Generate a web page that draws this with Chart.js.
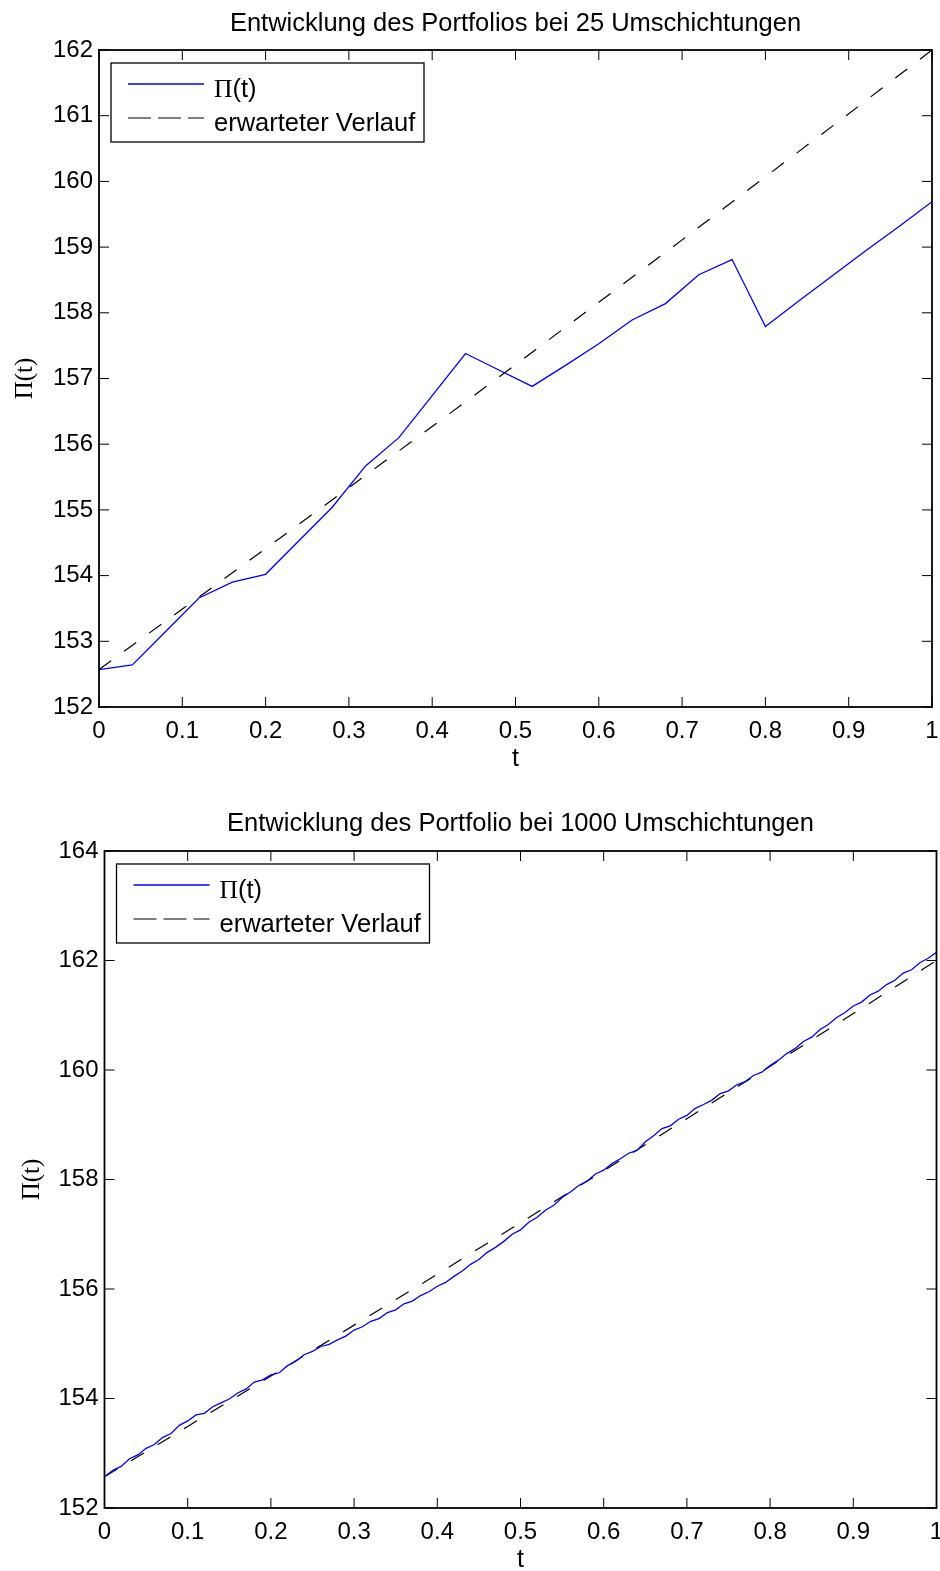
<!DOCTYPE html>
<html>
<head>
<meta charset="utf-8">
<script src="https://cdn.jsdelivr.net/npm/chart.js@4.4.1/dist/chart.umd.min.js"></script>
<style>
  html, body { margin: 0; padding: 0; background: #fff; overflow: hidden; }
  canvas { position: absolute; left: 0; }
  #chartCoarse { top: 0; }
  #chartFine { top: 790px; }
</style>
</head>
<body>
<canvas id="chartCoarse" width="940" height="790"></canvas>
<canvas id="chartFine" width="940" height="800"></canvas>
<script>
// Achsen
const xTicks = [0, 0.1, 0.2, 0.3, 0.4, 0.5, 0.6, 0.7, 0.8, 0.9, 1];
const xTickLabels = ['0', '0.1', '0.2', '0.3', '0.4', '0.5', '0.6', '0.7', '0.8', '0.9', '1'];
const yTicksCoarse = [152, 153, 154, 155, 156, 157, 158, 159, 160, 161, 162];
const yTicksFine = [152, 154, 156, 158, 160, 162, 164];

// 25 Umschichtungen
const tCoarse = [0, 0.04, 0.08, 0.12, 0.16, 0.2, 0.24, 0.28, 0.32, 0.36, 0.4, 0.44, 0.48,
  0.52, 0.56, 0.6, 0.64, 0.68, 0.72, 0.76, 0.8, 0.84, 0.88, 0.92, 0.96, 1];
const piCoarse = [152.57, 152.64, 153.15, 153.66, 153.90, 154.02, 154.53, 155.04, 155.67, 156.10,
  156.74, 157.38, 157.13, 156.88, 157.20, 157.53, 157.89, 158.14, 158.58, 158.81,
  157.79, 158.18, 158.56, 158.94, 159.31, 159.69];

// 1000 Umschichtungen
const tFine = [0, 0.01, 0.02, 0.03, 0.04, 0.05, 0.06, 0.07, 0.08, 0.09,
  0.1, 0.11, 0.12, 0.13, 0.14, 0.15, 0.16, 0.17, 0.18, 0.19,
  0.2, 0.21, 0.22, 0.23, 0.24, 0.25, 0.26, 0.27, 0.28, 0.29,
  0.3, 0.31, 0.32, 0.33, 0.34, 0.35, 0.36, 0.37, 0.38, 0.39,
  0.4, 0.41, 0.42, 0.43, 0.44, 0.45, 0.46, 0.47, 0.48, 0.49,
  0.5, 0.51, 0.52, 0.53, 0.54, 0.55, 0.56, 0.57, 0.58, 0.59,
  0.6, 0.61, 0.62, 0.63, 0.64, 0.65, 0.66, 0.67, 0.68, 0.69,
  0.7, 0.71, 0.72, 0.73, 0.74, 0.75, 0.76, 0.77, 0.78, 0.79,
  0.8, 0.81, 0.82, 0.83, 0.84, 0.85, 0.86, 0.87, 0.88, 0.89,
  0.9, 0.91, 0.92, 0.93, 0.94, 0.95, 0.96, 0.97, 0.98, 0.99, 1];
const piFine = [152.57, 152.69, 152.76, 152.90, 152.97, 153.09, 153.16, 153.29, 153.36, 153.51,
  153.59, 153.70, 153.73, 153.85, 153.92, 153.99, 154.10, 154.17, 154.30, 154.34,
  154.43, 154.47, 154.60, 154.68, 154.80, 154.86, 154.95, 154.99, 155.07, 155.14,
  155.25, 155.31, 155.41, 155.46, 155.57, 155.62, 155.73, 155.78, 155.88, 155.95,
  156.05, 156.12, 156.23, 156.33, 156.45, 156.54, 156.67, 156.76, 156.87, 157.00,
  157.08, 157.22, 157.31, 157.44, 157.53, 157.67, 157.77, 157.89, 157.97, 158.10,
  158.17, 158.29, 158.38, 158.48, 158.53, 158.69, 158.80, 158.93, 158.98, 159.10,
  159.17, 159.30, 159.37, 159.45, 159.57, 159.62, 159.73, 159.79, 159.90, 159.96,
  160.08, 160.18, 160.30, 160.39, 160.52, 160.60, 160.74, 160.83, 160.96, 161.05,
  161.17, 161.24, 161.37, 161.44, 161.56, 161.64, 161.77, 161.83, 161.96, 162.04,
  162.15];

// erwarteter Verlauf (beide Plots)
const tExpected = [0, 0.1, 0.2, 0.3, 0.4, 0.5, 0.6, 0.7, 0.8, 0.9, 1];
const piExpected = [152.57, 153.49, 154.41, 155.34, 156.27, 157.21, 158.16, 159.11, 160.07, 161.03, 162.00];

const SANS = "'Liberation Sans', Arial, Helvetica, sans-serif";
const SERIF = "'Liberation Serif', 'Times New Roman', serif";

function points(xs, ys) {
    return xs.map((x, i) => ({ x: x, y: ys[i] }));
}

// Rahmen mit nach innen zeigenden Ticks auf allen vier Seiten
const axesBox = {
    id: 'axesBox',
    afterDatasetsDraw(chart) {
        const { ctx, chartArea: a, scales: { x, y } } = chart;
        ctx.save();
        ctx.strokeStyle = '#000';
        ctx.lineWidth = 1;
        ctx.beginPath();
        x.ticks.forEach(t => {
            const px = x.getPixelForValue(t.value);
            ctx.moveTo(px, a.bottom); ctx.lineTo(px, a.bottom - 10);
            ctx.moveTo(px, a.top); ctx.lineTo(px, a.top + 10);
        });
        y.ticks.forEach(t => {
            const py = y.getPixelForValue(t.value);
            ctx.moveTo(a.left, py); ctx.lineTo(a.left + 10, py);
            ctx.moveTo(a.right, py); ctx.lineTo(a.right - 10, py);
        });
        ctx.stroke();
        ctx.lineWidth = 1.8;
        ctx.strokeRect(a.left, a.top, a.right - a.left, a.bottom - a.top);
        ctx.restore();
    }
};

// Legende im Kasten oben links
const boxLegend = {
    id: 'boxLegend',
    afterDraw(chart, args, opts) {
        const { ctx, chartArea: a } = chart;
        const left = a.left + opts.left;
        const top = a.top + opts.top;
        ctx.save();
        ctx.fillStyle = '#fff';
        ctx.fillRect(left, top, opts.width, opts.height);
        ctx.strokeStyle = '#000';
        ctx.lineWidth = 1.3;
        ctx.strokeRect(left, top, opts.width, opts.height);
        chart.data.datasets.forEach((ds, i) => {
            const rowY = top + opts.rows[i];
            ctx.strokeStyle = ds.borderColor;
            ctx.lineWidth = ds.borderWidth;
            ctx.setLineDash(opts.dashes[i]);
            ctx.beginPath();
            ctx.moveTo(left + 17, rowY);
            ctx.lineTo(left + 93, rowY);
            ctx.stroke();
            ctx.setLineDash([]);

            ctx.fillStyle = '#000';
            ctx.textBaseline = 'middle';
            ctx.textAlign = 'left';
            let tx = left + 103;
            let rest = ds.label;
            if (rest.startsWith('Π')) {
                ctx.font = '25.5px ' + SERIF;
                ctx.fillText('Π', tx, rowY + 6);
                tx += ctx.measureText('Π').width;
                rest = rest.slice(1);
            }
            ctx.font = '25.5px ' + SANS;
            ctx.fillText(rest, tx, rowY + 6);
        });
        ctx.restore();
    }
};

function makeChart(id, o) {
    return new Chart(document.getElementById(id), {
        type: 'line',
        data: {
            datasets: [{
                label: 'Π(t)',
                data: points(o.t, o.pi),
                borderColor: '#0000ff',
                borderWidth: 1.3,
                pointRadius: 0,
                tension: 0
            }, {
                label: 'erwarteter Verlauf',
                data: points(tExpected, piExpected),
                borderColor: '#000',
                borderWidth: 1.2,
                borderDash: [15, 16],
                pointRadius: 0,
                tension: 0
            }]
        },
        options: {
            responsive: false,
            animation: false,
            layout: { padding: { left: 0, right: o.padRight, top: 0, bottom: 0 } },
            plugins: {
                legend: { display: false },
                tooltip: { enabled: false },
                title: {
                    display: true,
                    text: o.title,
                    fullSize: false,
                    color: '#000',
                    font: { family: SANS, size: 25.5, weight: 'normal' },
                    padding: o.titlePad
                },
                boxLegend: {
                    left: 12, top: 13, width: 313, height: 79,
                    rows: [21, 55],
                    dashes: [[], [23, 7]]
                }
            },
            scales: {
                x: {
                    type: 'linear',
                    min: 0, max: 1,
                    grid: { display: false, drawTicks: false },
                    border: { display: false },
                    afterBuildTicks: s => { s.ticks = xTicks.map(v => ({ value: v })); },
                    afterFit: s => { s.height = o.xHeight; s.paddingLeft = 0; s.paddingRight = 0; },
                    ticks: {
                        autoSkip: false, maxRotation: 0, padding: 10, color: '#000',
                        font: { family: SANS, size: 24 },
                        callback: (v, i) => xTickLabels[i]
                    },
                    title: {
                        display: true, text: 't', color: '#000',
                        font: { family: SANS, size: 25 },
                        padding: { top: 0, bottom: o.xTitlePad }
                    }
                },
                y: {
                    min: o.yTicks[0], max: o.yTicks[o.yTicks.length - 1],
                    grid: { display: false, drawTicks: false },
                    border: { display: false },
                    afterBuildTicks: s => { s.ticks = o.yTicks.map(v => ({ value: v })); },
                    afterFit: s => { s.width = o.yWidth; s.paddingTop = 0; s.paddingBottom = 0; },
                    ticks: {
                        padding: 6, color: '#000',
                        font: { family: SANS, size: 24 },
                        callback: v => String(v)
                    },
                    title: {
                        display: true, text: 'Π(t)', color: '#000',
                        font: { family: SERIF, size: 25 },
                        padding: { top: o.yTitlePad, bottom: 0 }
                    }
                }
            }
        },
        plugins: [axesBox, boxLegend]
    });
}

makeChart('chartCoarse', {
    t: tCoarse, pi: piCoarse, yTicks: yTicksCoarse,
    title: 'Entwicklung des Portfolios bei 25 Umschichtungen',
    titlePad: { top: 8.5, bottom: 10.9 },
    padRight: 8, yWidth: 99, xHeight: 83,
    xTitlePad: 16, yTitlePad: 10
});

makeChart('chartFine', {
    t: tFine, pi: piFine, yTicks: yTicksFine,
    title: 'Entwicklung des Portfolio bei 1000 Umschichtungen',
    titlePad: { top: 19.1, bottom: 11.3 },
    padRight: 3.5, yWidth: 104.5, xHeight: 82,
    xTitlePad: 14.5, yTitlePad: 17
});
</script>
</body>
</html>
